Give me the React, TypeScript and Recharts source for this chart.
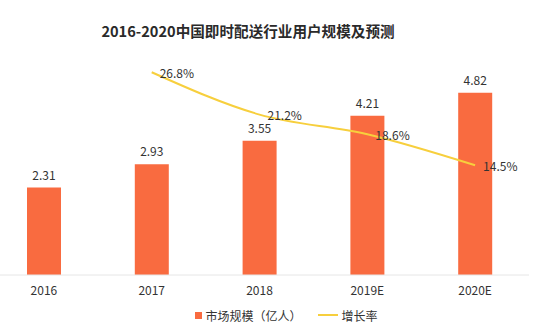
import { ComposedChart, Bar, Line, XAxis, YAxis, LabelList, Legend } from "recharts";

const years = ["2016", "2017", "2018", "2019E", "2020E"];
const marketSize = [2.31, 2.93, 3.55, 4.21, 4.82];
const growthRate = [null, 26.8, 21.2, 18.6, 14.5];

const data = years.map((year, i) => ({
  year,
  size: marketSize[i],
  rate: growthRate[i],
}));

const FONT = '"Noto Sans CJK SC", "Noto Sans", sans-serif';
const ORANGE = "#f96b40";
const YELLOW = "#f7cf3d";

function RateLabel(props: any) {
  const { x, y, value } = props;
  if (value == null) return null;
  return (
    <text x={x + 8} y={y} dominantBaseline="central" fontSize={12} fill="#333" fontFamily={FONT}>
      {value.toFixed(1)}%
    </text>
  );
}

function LegendBox() {
  return (
    <div
      style={{
        display: "flex",
        justifyContent: "center",
        alignItems: "center",
        paddingLeft: 54,
        fontSize: 12,
        color: "#333",
        fontFamily: FONT,
        height: 20,
      }}
    >
      <span style={{ width: 7, height: 7, background: ORANGE, marginRight: 3 }} />
      <span>市场规模（亿人）</span>
      <span style={{ width: 20, height: 2, background: YELLOW, marginLeft: 16, marginRight: 4 }} />
      <span>增长率</span>
    </div>
  );
}

export default function App() {
  return (
    <div style={{ position: "absolute", left: 0, top: 0, width: 548, height: 327, overflow: "hidden", background: "#fff" }}>
      <div
        style={{
          position: "absolute",
          left: 0,
          width: 496,
          top: 20,
          textAlign: "center",
          fontFamily: FONT,
          fontWeight: 700,
          fontSize: 14.6,
          color: "#2a2a2a",
        }}
      >
        2016-2020中国即时配送行业用户规模及预测
      </div>
      <div style={{ position: "absolute", left: -10, top: 0 }}>
        <ComposedChart
          width={558}
          height={327}
          data={data}
          margin={{ top: 48, right: 19, bottom: 2, left: 0 }}
        >
          <XAxis
            dataKey="year"
            axisLine={{ stroke: "#e6e6e6" }}
            tickLine={false}
            tickMargin={5}
            height={30}
            tick={{ fontSize: 12, fill: "#333", fontFamily: FONT }}
          />
          <YAxis yAxisId="left" domain={[0, 6]} hide />
          <YAxis yAxisId="right" orientation="right" domain={[0, 30]} hide />
          <Legend verticalAlign="bottom" height={20} content={() => <LegendBox />} />
          <Bar yAxisId="left" dataKey="size" fill={ORANGE} barSize={34} isAnimationActive={false}>
            <LabelList
              dataKey="size"
              position="top"
              offset={8}
              style={{ fontSize: 12, fill: "#333", fontFamily: FONT }}
              formatter={(v: any) => Number(v).toFixed(2)}
            />
          </Bar>
          <Line
            yAxisId="right"
            type="monotone"
            dataKey="rate"
            stroke={YELLOW}
            strokeWidth={2}
            dot={false}
            isAnimationActive={false}
          >
            <LabelList dataKey="rate" content={<RateLabel />} />
          </Line>
        </ComposedChart>
      </div>
    </div>
  );
}
